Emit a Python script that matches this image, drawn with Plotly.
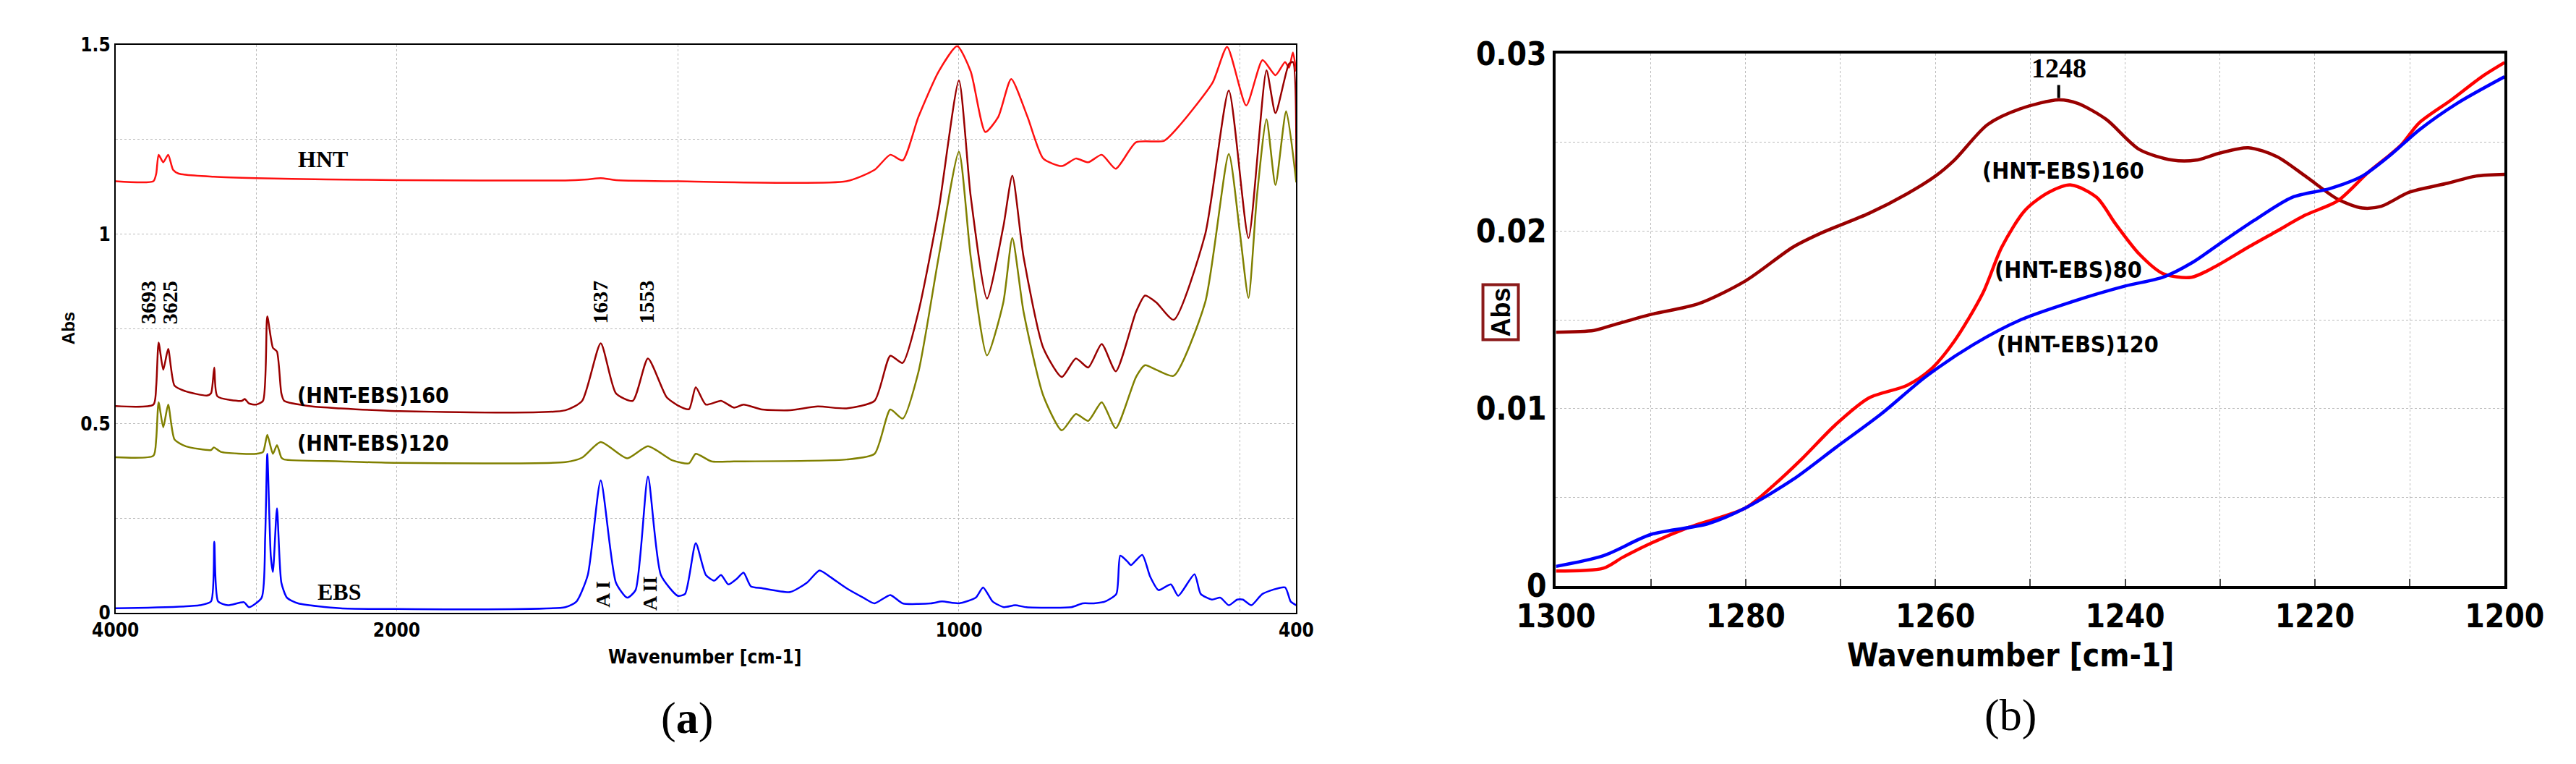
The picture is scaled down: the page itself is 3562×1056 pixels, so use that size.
import plotly.graph_objects as go

# ---------- Panel (a) data ----------
hnt_w = [4000,3730,3710,3693,3660,3625,3590,3550,3300,3000,2500,2000,1700,1660,1637,1610,1500,1200,1150,1122,1100,1072,1036,1003,979,953,930,907,878,850,817,792,770,746,721,685,635,606,549,523,489,460,437,420,413,406,400]
hnt_a = [1.14,1.14,1.16,1.21,1.19,1.21,1.17,1.16,1.152,1.148,1.145,1.143,1.142,1.145,1.148,1.143,1.14,1.14,1.17,1.21,1.195,1.31,1.43,1.497,1.43,1.27,1.31,1.41,1.31,1.20,1.18,1.20,1.19,1.21,1.173,1.243,1.247,1.29,1.40,1.495,1.34,1.46,1.42,1.455,1.44,1.48,1.43]

s160_w = [4000,3730,3710,3693,3660,3625,3580,3500,3350,3320,3297,3275,3100,3080,3050,3000,2950,2920,2880,2851,2820,2800,2600,2400,2000,1700,1670,1637,1610,1580,1553,1520,1500,1480,1468,1450,1423,1400,1383,1350,1300,1251,1200,1150,1122,1100,1072,1036,1000,979,950,921,905,885,850,817,792,770,746,721,685,669,649,618,562,520,485,453,437,413,406,400]
s160_a = [0.546,0.55,0.60,0.714,0.642,0.697,0.60,0.585,0.574,0.58,0.648,0.572,0.56,0.565,0.553,0.55,0.56,0.783,0.70,0.69,0.58,0.56,0.545,0.54,0.533,0.535,0.56,0.712,0.58,0.56,0.672,0.57,0.548,0.538,0.596,0.55,0.56,0.542,0.55,0.537,0.535,0.545,0.54,0.56,0.679,0.66,0.795,1.065,1.406,1.10,0.83,1.02,1.155,0.94,0.70,0.623,0.672,0.648,0.71,0.638,0.795,0.838,0.82,0.774,1.0,1.38,0.99,1.433,1.32,1.45,1.455,1.163]

s120_w = [4000,3730,3710,3693,3660,3625,3580,3500,3320,3300,3250,3000,2950,2920,2880,2851,2820,2800,2400,2000,1700,1670,1637,1590,1553,1510,1480,1468,1440,1400,1200,1150,1122,1100,1072,1036,1000,979,950,921,905,885,850,817,792,770,746,721,685,669,649,618,562,520,500,485,470,453,437,418,400]
s120_a = [0.411,0.415,0.46,0.556,0.49,0.55,0.458,0.44,0.43,0.437,0.425,0.42,0.425,0.47,0.42,0.443,0.41,0.405,0.40,0.396,0.398,0.41,0.451,0.408,0.44,0.403,0.395,0.42,0.40,0.40,0.405,0.42,0.537,0.513,0.636,0.94,1.218,0.94,0.68,0.82,0.99,0.795,0.574,0.482,0.525,0.507,0.556,0.488,0.623,0.654,0.642,0.626,0.82,1.212,1.0,0.832,1.10,1.304,1.13,1.325,1.137]

ebs_w = [4000,3400,3320,3297,3270,3200,3086,3050,2960,2935,2920,2895,2880,2851,2820,2780,2700,2400,2000,1700,1680,1660,1637,1610,1590,1575,1553,1530,1500,1487,1468,1450,1435,1423,1410,1395,1383,1370,1350,1300,1270,1248,1229,1200,1170,1150,1122,1100,1050,1030,1000,970,957,940,920,900,880,800,780,760,740,720,713,700,694,674,660,645,623,610,581,570,550,535,520,505,495,480,460,420,410,400]
ebs_a = [0.012,0.02,0.03,0.188,0.03,0.02,0.028,0.015,0.04,0.2,0.42,0.15,0.108,0.276,0.08,0.04,0.025,0.012,0.01,0.015,0.03,0.10,0.35,0.08,0.04,0.06,0.36,0.10,0.045,0.05,0.184,0.10,0.085,0.10,0.075,0.09,0.106,0.07,0.065,0.055,0.08,0.112,0.095,0.065,0.04,0.025,0.047,0.025,0.025,0.03,0.025,0.04,0.067,0.03,0.015,0.02,0.015,0.015,0.025,0.025,0.03,0.05,0.151,0.135,0.126,0.153,0.096,0.06,0.075,0.045,0.102,0.05,0.035,0.04,0.02,0.035,0.035,0.02,0.05,0.067,0.03,0.02]

# ---------- Panel (b) data ----------
b160_w = [1300,1296,1294,1290,1285,1280,1275,1272,1267,1263,1260,1258,1254.5,1251,1247,1245,1242,1238.5,1235,1232.5,1230,1227,1224,1221,1217.6,1215,1213,1210,1206,1203,1200]
b160_a = [0.0143,0.0144,0.0147,0.0153,0.0159,0.0172,0.0191,0.0199,0.021,0.0221,0.0231,0.024,0.026,0.0269,0.0274,0.0272,0.0263,0.0246,0.024,0.024,0.0244,0.0247,0.0242,0.0231,0.0218,0.0213,0.0214,0.0222,0.0227,0.0231,0.0232]
b80_w = [1300,1295,1293,1290,1286,1280,1277,1274,1270.5,1267,1263,1260.5,1258,1255,1253,1250.5,1248,1245.7,1243,1241,1238.5,1236,1233,1230.5,1227,1224,1221,1217.6,1214.4,1211,1209,1205.6,1202.4,1200]
b80_a = [0.00084,0.001,0.0016,0.0024,0.0033,0.0044,0.0057,0.0072,0.0091,0.0106,0.0113,0.0122,0.0138,0.0165,0.0191,0.0212,0.0222,0.0226,0.0219,0.0204,0.0187,0.0176,0.0174,0.018,0.0191,0.02,0.0209,0.0217,0.0233,0.0248,0.0261,0.0274,0.0287,0.0295]
b120_w = [1300,1295,1290,1284,1280,1275,1270.5,1265.7,1261,1256,1251,1245.7,1240,1236,1233,1230,1226.4,1222.4,1218.4,1215,1212,1209,1205,1200]
b120_a = [0.0011,0.0017,0.0029,0.0035,0.0044,0.006,0.0078,0.0097,0.0118,0.0136,0.015,0.016,0.0169,0.0174,0.0182,0.0193,0.0206,0.0219,0.0224,0.0231,0.0243,0.0257,0.0272,0.0287]

ticks_a = [4000, 3000, 2000, 1500, 1000, 500, 400]
ticks_a_text = ["4000", "", "2000", "", "1000", "", "400"]

def u(w):
    # IR axis with scale change at 2000 cm-1 (4x compressed above)
    return (4000 - w) / 4.0 if w >= 2000 else 500 + (2000 - w)

def U(ws):
    return [u(w) for w in ws]

DRED = "#990000"
OLIVE = "#808000"
fig = go.Figure()
for w, a, c in [(hnt_w, hnt_a, "#ff1010"), (s160_w, s160_a, DRED), (s120_w, s120_a, OLIVE), (ebs_w, ebs_a, "#0000ff")]:
    fig.add_trace(go.Scatter(x=U(w), y=a, mode="lines", line=dict(color=c, width=2.5, shape="spline", smoothing=0.6),
                             xaxis="x", yaxis="y", showlegend=False))
for w, a, c in [(b160_w, b160_a, DRED), (b80_w, b80_a, "#ff0000"), (b120_w, b120_a, "#0000ff")]:
    fig.add_trace(go.Scatter(x=w, y=a, mode="lines", line=dict(color=c, width=4.5, shape="spline", smoothing=0.8),
                             xaxis="x2", yaxis="y2", showlegend=False))

NARROW = "DejaVu Sans Condensed, Liberation Sans Narrow, Arial Narrow, sans-serif"
SERIF = "Liberation Serif, Times New Roman, serif"
grid = dict(showgrid=True, gridcolor="#bbbbbb", griddash="dot", gridwidth=1, zeroline=False)

fig.update_layout(
    width=3562, height=1056, margin=dict(l=0, r=0, t=0, b=0),
    plot_bgcolor="white", paper_bgcolor="white",
    xaxis=dict(domain=[0.028, 0.501], range=[0, 2100], tickvals=U(ticks_a), ticktext=ticks_a_text,
               showline=True, linecolor="black", linewidth=1.5, mirror=True, ticks="",
               tickfont=dict(family=NARROW, size=26, color="black", weight="bold"), anchor="y", **grid),
    yaxis=dict(domain=[0.191, 0.972], range=[0, 1.5], tickvals=[0, 0.25, 0.5, 0.75, 1, 1.25, 1.5],
               ticktext=["0", "", "0.5", "", "1", "", "1.5"],
               showline=True, linecolor="black", linewidth=1.5, mirror=True, ticks="",
               tickfont=dict(family=NARROW, size=26, color="black", weight="bold"), anchor="x", **grid),
    xaxis2=dict(domain=[0.605, 0.985], range=[1300, 1200], tickvals=list(range(1300, 1199, -10)),
                ticktext=[str(v) if v % 20 == 0 else "" for v in range(1300, 1199, -10)],
                showline=True, linecolor="black", linewidth=4, mirror=True, ticks="inside", ticklen=10, tickwidth=2,
                tickfont=dict(family=NARROW, size=44, color="black", weight="bold"), anchor="y2", **grid),
    yaxis2=dict(domain=[0.228, 0.960], range=[0, 0.03], tickvals=[0, 0.005, 0.01, 0.015, 0.02, 0.025, 0.03],
                ticktext=["0", "", "0.01", "", "0.02", "", "0.03"],
                showline=True, linecolor="black", linewidth=4, mirror=True, ticks="",
                tickfont=dict(family=NARROW, size=44, color="black", weight="bold"), anchor="x2", **grid),
)

ann = []
def A(x, y, t, xr="x", yr="y", size=26, fam=NARROW, angle=0, bold=True, **kw):
    ann.append(dict(x=x, y=y, xref=xr, yref=yr, text=t, showarrow=False, textangle=angle,
                    xanchor="center", yanchor="middle",
                    font=dict(family=fam, size=size, color="black", weight="bold" if bold else "normal"), **kw))

A(u(2526), 1.198, "HNT", fam=SERIF, size=32)
A(u(2166), 0.574, "(HNT-EBS)160", size=30)
A(u(2166), 0.448, "(HNT-EBS)120", size=30)
A(u(2411), 0.056, "EBS", fam=SERIF, size=32)
for w, t in [(3766, "3693"), (3611, "3625"), (1638, "1637"), (1556, "1553")]:
    A(u(w), 0.82, t, fam=SERIF, size=30, angle=-90)
A(u(1633), 0.05, "A I", fam=SERIF, size=28, angle=-90)
A(u(1549), 0.05, "A II", fam=SERIF, size=28, angle=-90)
A(0.264, 0.13, "Wavenumber [cm-1]", xr="paper", yr="paper", size=26)
A(0.009, 0.582, "Abs", xr="paper", yr="paper", size=24, angle=-90, fam="Liberation Sans")
A(0.257, 0.046, "(<b>a</b>)", xr="paper", yr="paper", size=62, fam=SERIF, bold=False)

A(1247, 0.0292, "1248", xr="x2", yr="y2", fam=SERIF, size=38)
ann.append(dict(x=1247, y=0.0275, xref="x2", yref="y2", ax=1247, ay=0.0283, axref="x2", ayref="y2",
                showarrow=True, arrowhead=0, arrowwidth=4, arrowcolor="black", text=""))
A(1246.5, 0.0234, "(HNT-EBS)160", xr="x2", yr="y2", size=32)
A(1246, 0.0178, "(HNT-EBS)80", xr="x2", yr="y2", size=32)
A(1245, 0.0136, "(HNT-EBS)120", xr="x2", yr="y2", size=32)
A(0.787, 0.133, "Wavenumber [cm-1]", xr="paper", yr="paper", size=44)
A(0.583, 0.604, "Abs", xr="paper", yr="paper", size=36, angle=-90, fam="Liberation Sans",
  bordercolor="#8b1a1a", borderwidth=4, borderpad=2)
A(0.787, 0.05, "(b)", xr="paper", yr="paper", size=62, fam=SERIF, bold=False)

fig.update_layout(annotations=ann)
fig.write_html("out.html")
